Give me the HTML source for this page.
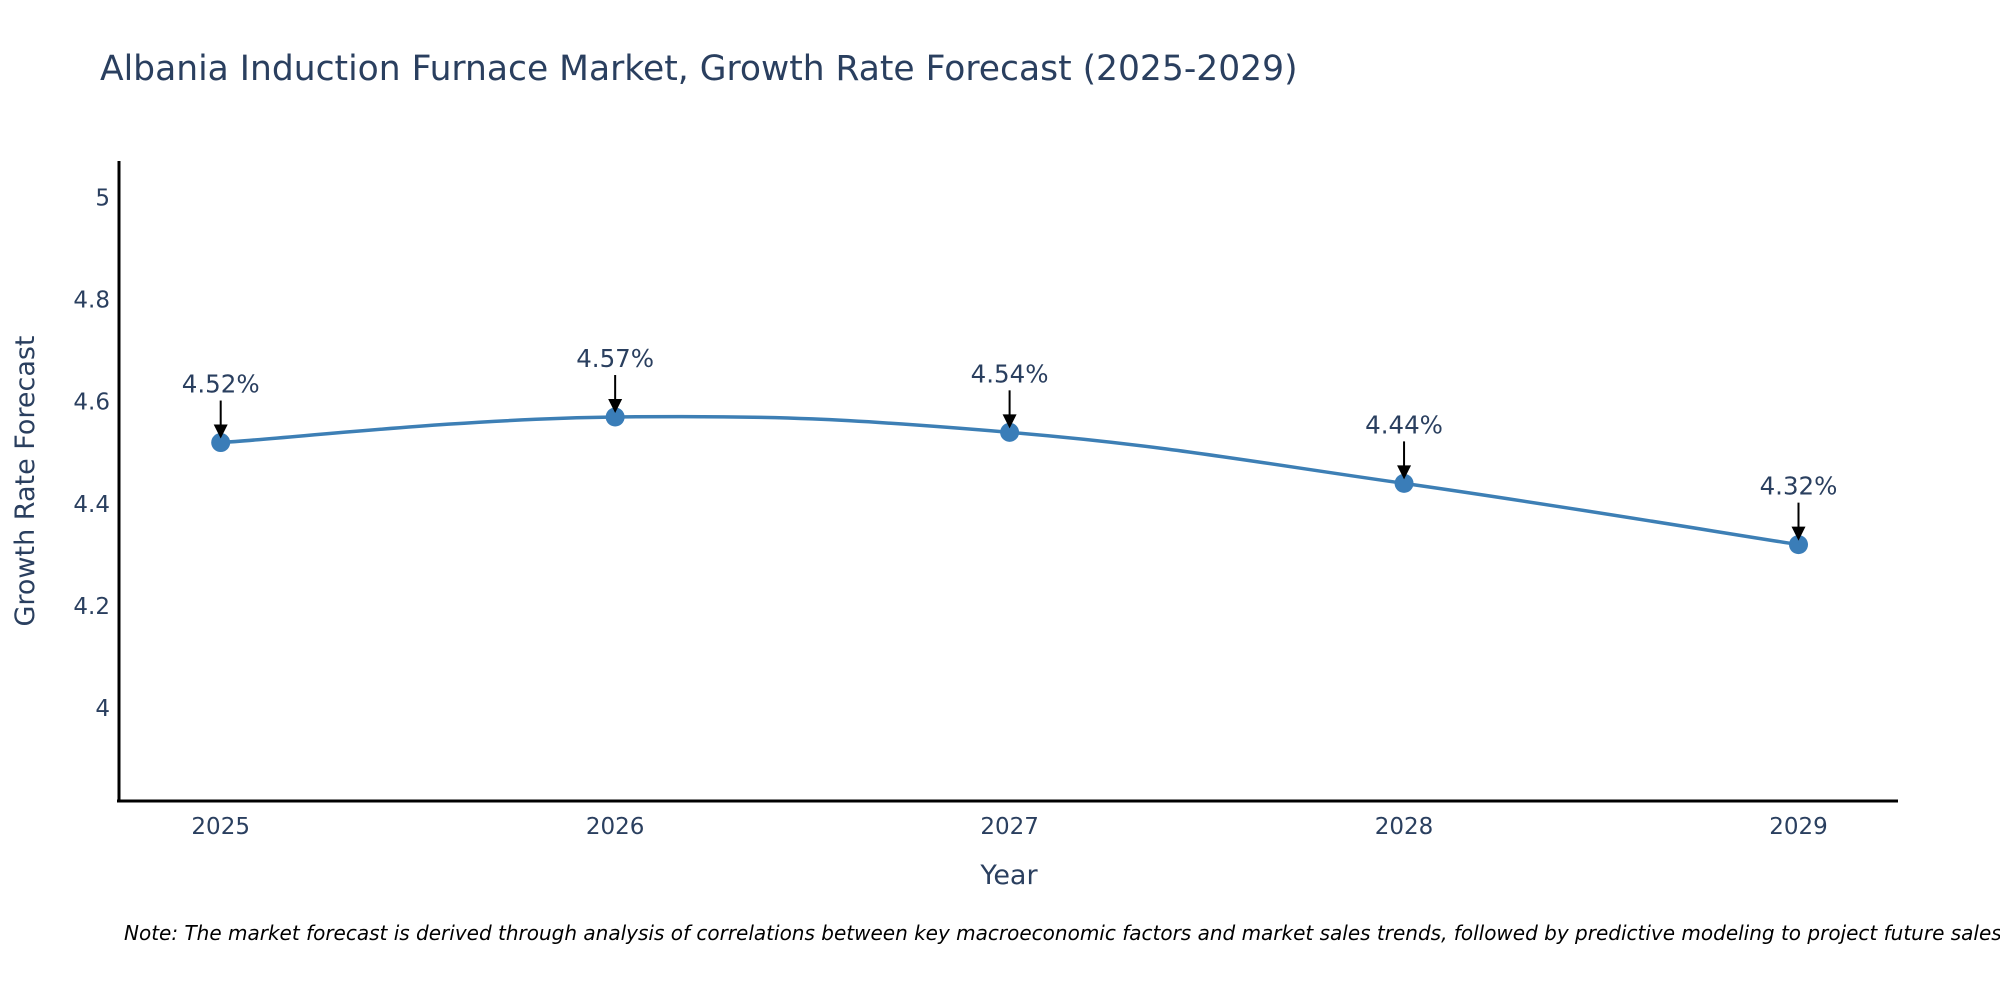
<!DOCTYPE html>
<html><head><meta charset="utf-8"><style>
html,body{margin:0;padding:0;background:#fff;}
svg text{font-family:"DejaVu Sans","Liberation Sans",sans-serif;}
</style></head><body>
<svg id="chart" width="2000" height="1000" viewBox="0 0 2000 1000" xmlns="http://www.w3.org/2000/svg">
<rect width="2000" height="1000" fill="#fff"/>
<text x="100" y="80" font-size="34.5" fill="#2a3f5f">Albania Induction Furnace Market, Growth Rate Forecast (2025-2029)</text>
<g id="yticks"></g><g id="xticks"></g>
<line x1="119" y1="161" x2="119" y2="802" stroke="#000" stroke-width="3"/>
<line x1="117" y1="801" x2="1898" y2="801" stroke="#000" stroke-width="3"/>
<text transform="translate(34,481) rotate(-90)" text-anchor="middle" font-size="27" fill="#2a3f5f">Growth Rate Forecast</text>
<text x="1009" y="884" text-anchor="middle" font-size="27" fill="#2a3f5f">Year</text>
<g id="series"></g>
<text x="124" y="940" font-size="20" font-style="italic" fill="#000">Note: The market forecast is derived through analysis of correlations between key macroeconomic factors and market sales trends, followed by predictive modeling to project future sales.</text>
</svg>
<script>
const years = ["2025","2026","2027","2028","2029"];
const values = [4.52, 4.57, 4.54, 4.44, 4.32];
const labels = ["4.52%","4.57%","4.54%","4.44%","4.32%"];
const yTicks = [4, 4.2, 4.4, 4.6, 4.8, 5];
const yTickLabels = ["4","4.2","4.4","4.6","4.8","5"];

const NS = "http://www.w3.org/2000/svg";
const X0 = 220.7, X1 = 1798.5;
const xPos = i => X0 + (X1 - X0) * i / (years.length - 1);
const yPos = v => 708 - (v - 4) * 510.5;
function mk(tag, attrs, parent){const e=document.createElementNS(NS,tag);for(const k in attrs)e.setAttribute(k,attrs[k]);parent.appendChild(e);return e;}

const yg=document.getElementById('yticks');
yTicks.forEach((v,i)=>{
  const t=mk('text',{x:110,y:yPos(v)+8,'text-anchor':'end','font-size':23,fill:'#2a3f5f'},yg);
  
  
  t.textContent=yTickLabels[i];
});
const xg=document.getElementById('xticks');
years.forEach((y,i)=>{
  const t=mk('text',{x:xPos(i),y:834,'text-anchor':'middle','font-size':23,fill:'#2a3f5f'},xg);
  
  
  t.textContent=y;
});

const sg=document.getElementById('series');
const pts=values.map((v,i)=>[xPos(i),yPos(v)]);
let d=`M${pts[0][0]},${pts[0][1]}`;
const s=0.2;
for(let i=0;i<pts.length-1;i++){
  const p0=pts[Math.max(0,i-1)],p1=pts[i],p2=pts[i+1],p3=pts[Math.min(pts.length-1,i+2)];
  const c1=[p1[0]+(p2[0]-p0[0])*s,p1[1]+(p2[1]-p0[1])*s];
  const c2=[p2[0]-(p3[0]-p1[0])*s,p2[1]-(p3[1]-p1[1])*s];
  d+=` C${c1[0]},${c1[1]} ${c2[0]},${c2[1]} ${p2[0]},${p2[1]}`;
}
const line=mk('path',{d:d,fill:'none',stroke:'#3d7fb5','stroke-width':3.5},sg);


pts.forEach((p,i)=>{
  const c=mk('circle',{cx:p[0],cy:p[1],r:9.5,fill:'#3a7db8'},sg);
  
  
  const a=mk('line',{x1:p[0],y1:p[1]-42,x2:p[0],y2:p[1]-16,stroke:'#000','stroke-width':2},sg);
  
  
  const h=mk('polygon',{points:`${p[0]-7},${p[1]-18} ${p[0]+7},${p[1]-18} ${p[0]},${p[1]-4}`,fill:'#000'},sg);
  
  
  const t=mk('text',{x:p[0],y:p[1]-50,'text-anchor':'middle','font-size':24.5,fill:'#2a3f5f'},sg);
  
  
  t.textContent=labels[i];
});
</script>
</body></html>
